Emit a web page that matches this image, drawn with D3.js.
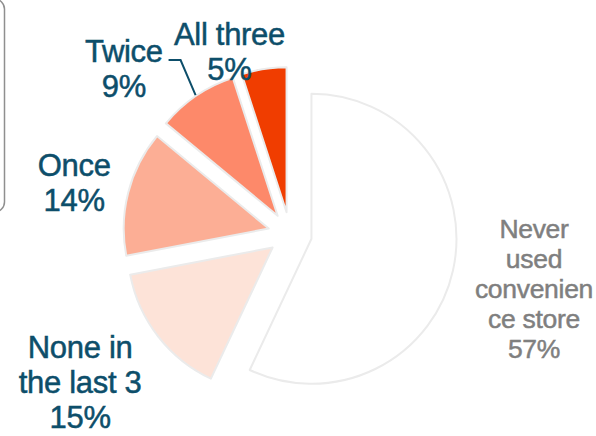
<!DOCTYPE html>
<html>
<head>
<meta charset="utf-8">
<script src="https://cdn.jsdelivr.net/npm/d3@7"></script>
<style>
  html, body { margin: 0; padding: 0; background: #fff; }
  svg { display: block; font-family: "Liberation Sans", Arial, sans-serif; }
</style>
</head>
<body>
<svg id="chart" width="596" height="436"></svg>
<script>
// slices, clockwise from 12 o'clock
const categories = ["Never used convenience store", "None in the last 3", "Once", "Twice", "All three"];
const values = [57, 15, 14, 9, 5];
const labelLines = [
  ["Never", "used", "convenien", "ce store"],
  ["None in", "the last 3"],
  ["Once"],
  ["Twice"],
  ["All three"]
];
const colors = ["#ffffff", "#fde3d8", "#fcae95", "#fd896a", "#f03d00"];

const width = 596, height = 436;
const cx = 290, cy = 234, radius = 145, explode = 22;

// label placement (distance from slice centre and small angle nudge, degrees)
const labelDist = [228, 235, 200, 213, 171];
const labelNudge = [0, 2.8, -1, -12, -10.5];

const svg = d3.select("#chart");

// frame left over from the slide
svg.append("rect")
  .attr("x", -30).attr("y", -1)
  .attr("width", 34.5).attr("height", 213)
  .attr("rx", 10).attr("ry", 10)
  .attr("fill", "none")
  .attr("stroke", "#8f8f8f")
  .attr("stroke-width", 1.5);

const pie = d3.pie().sort(null).value((d) => d);
const arc = d3.arc().innerRadius(0).outerRadius(radius);
const arcs = pie(values);

const dir = (a) => [Math.sin(a), -Math.cos(a)];
const mid = (d) => (d.startAngle + d.endAngle) / 2;

const g = svg.append("g").attr("transform", `translate(${cx},${cy})`);

const slice = g.selectAll("g.slice")
  .data(arcs)
  .enter()
  .append("g")
  .attr("class", "slice")
  .attr("transform", (d) => {
    const [x, y] = dir(mid(d));
    return `translate(${x * explode},${y * explode})`;
  });

slice.append("path")
  .attr("d", arc)
  .attr("fill", (d, i) => colors[i])
  .attr("stroke", "#ebebeb")
  .attr("stroke-width", 2)
  .attr("stroke-linejoin", "round");

// labels
slice.each(function (d, i) {
  const a = mid(d) + (labelNudge[i] * Math.PI) / 180;
  const [ux, uy] = dir(a);
  const lx = ux * labelDist[i], ly = uy * labelDist[i];
  const never = i === 0;
  const fs = never ? 26.5 : 31;
  const lh = never ? 30 : 35;
  const col = never ? "#7f7f7f" : "#0d4e6a";
  const lines = labelLines[i].concat([`${values[i]}%`]);
  const n = lines.length;
  const text = d3.select(this)
    .append("text")
    .attr("text-anchor", "middle")
    .attr("font-size", fs)
    .attr("fill", col)
    .attr("stroke", col)
    .attr("stroke-width", 0.5)
    .attr("letter-spacing", -0.3);
  lines.forEach((t, k) => {
    text.append("tspan")
      .attr("x", lx)
      .attr("y", ly + (k - (n - 1) / 2) * lh + fs * 0.36)
      .text(t);
  });
});

// leader line for "Twice"
const twice = arcs[3];
const [tx, ty] = dir(mid(twice));
const ox = tx * explode, oy = ty * explode;
const end = [ox + tx * (radius + 1), oy + ty * (radius + 1)];
const elbow = [end[0] - 15, end[1] - 35];
const start = [elbow[0] - 12, elbow[1]];
g.append("path")
  .attr("d", d3.line()([start, elbow, end]))
  .attr("fill", "none")
  .attr("stroke", "#0d4e6a")
  .attr("stroke-width", 2);
</script>
</body>
</html>
